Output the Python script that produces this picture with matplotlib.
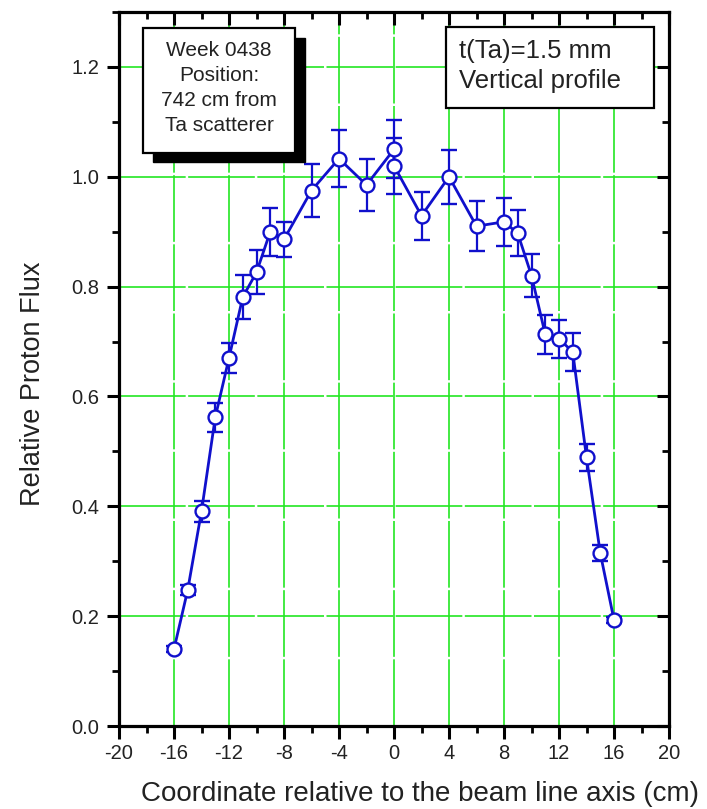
import matplotlib
matplotlib.use("Agg")
import matplotlib.pyplot as plt
from matplotlib.patches import Rectangle
from matplotlib.ticker import MultipleLocator

plt.rcParams['font.family'] = ['Liberation Sans', 'DejaVu Sans']

# Vertical beam profile: position (cm), relative flux and its uncertainty
position_cm = [-16, -15, -14, -13, -12, -11, -10, -9, -8, -6, -4, -2, 0, 0,
               2, 4, 6, 8, 9, 10, 11, 12, 13, 14, 15, 16]
rel_flux = [0.140, 0.248, 0.391, 0.562, 0.670, 0.781, 0.826, 0.900, 0.886,
            0.975, 1.033, 0.985, 1.050, 1.020, 0.929, 1.000, 0.910, 0.918,
            0.897, 0.820, 0.713, 0.705, 0.681, 0.489, 0.315, 0.193]
flux_err = [0.005, 0.009, 0.019, 0.027, 0.028, 0.040, 0.040, 0.044, 0.032,
            0.049, 0.052, 0.048, 0.053, 0.051, 0.044, 0.049, 0.045, 0.044,
            0.042, 0.039, 0.035, 0.035, 0.034, 0.024, 0.015, 0.005]

x_ticks = [-20, -16, -12, -8, -4, 0, 4, 8, 12, 16, 20]
y_ticks = [0.0, 0.2, 0.4, 0.6, 0.8, 1.0, 1.2]

info_lines = ["Week 0438", "Position:", "742 cm from", "Ta scatterer"]
setup_lines = ["t(Ta)=1.5 mm", "Vertical profile"]

blue = '#1010cc'
green = '#22e622'

fig = plt.figure(figsize=(7.07, 8.09), dpi=100)
ax = fig.add_axes([119 / 707, 83 / 809, 550 / 707, 714 / 809])

ax.set_xlim(-20, 20)
ax.set_ylim(0, 1.3)
ax.set_xticks(x_ticks)
ax.set_xticklabels([f"{t:d}" for t in x_ticks])
ax.set_yticks(y_ticks)
ax.set_yticklabels([f"{t:.1f}" for t in y_ticks])
ax.xaxis.set_minor_locator(MultipleLocator(2))
ax.yaxis.set_minor_locator(MultipleLocator(0.1))

for s in ax.spines.values():
    s.set_linewidth(2.3)

ax.tick_params(axis='both', which='major', length=9, width=2.2,
               labelsize=14.5, colors='black', labelcolor='#222222')
ax.tick_params(axis='both', which='minor', length=5, width=2.0)
ax.tick_params(axis='x', which='both', direction='out', top=True, pad=4)
ax.tick_params(axis='y', which='both', direction='out', right=True, pad=5)
# top and right ticks point into the frame
for tk in ax.xaxis.get_major_ticks() + ax.xaxis.get_minor_ticks():
    tk.tick2line.set_marker(3)
for tk in ax.yaxis.get_major_ticks() + ax.yaxis.get_minor_ticks():
    tk.tick2line.set_marker(0)

ax.grid(True, which='major', color=green, linewidth=1.2,
        linestyle=(0, (40, 1.5)), zorder=0)
ax.set_axisbelow(True)

ax.errorbar(position_cm, rel_flux, yerr=flux_err, fmt='-o', color=blue,
            linewidth=2.0, elinewidth=1.6, capsize=5.5, capthick=1.6,
            markersize=10, markerfacecolor='white', markeredgecolor=blue,
            markeredgewidth=1.7, zorder=3)

# annotation box with drop shadow (upper left)
bx0, bx1, by0, by1 = -18.25, -7.2, 1.044, 1.271
dx, dy = 0.73, 0.018
ax.add_patch(Rectangle((bx0 + dx, by0 - dy), bx1 - bx0, by1 - by0,
                       facecolor='black', edgecolor='black', zorder=5))
ax.add_patch(Rectangle((bx0, by0), bx1 - bx0, by1 - by0,
                       facecolor='white', edgecolor='black', linewidth=1.6,
                       zorder=6))
for i, line in enumerate(info_lines):
    ax.text((bx0 + bx1) / 2, 1.230 - i * 0.0455, line, ha='center',
            va='center', fontsize=15, color='#222222', zorder=7)

# setup box (upper right)
rx0, rx1, ry0, ry1 = 3.78, 18.91, 1.125, 1.273
ax.add_patch(Rectangle((rx0, ry0), rx1 - rx0, ry1 - ry0,
                       facecolor='white', edgecolor='black', linewidth=1.6,
                       zorder=6))
for i, line in enumerate(setup_lines):
    ax.text(4.75, 1.229 - i * 0.0545, line, ha='left', va='center',
            fontsize=18.5, color='#222222', zorder=7)

ax.set_xlabel("Coordinate relative to the beam line axis (cm)",
              fontsize=20, color='#222222', va='center')
ax.xaxis.set_label_coords(0.547, -0.095)
ax.set_ylabel("Relative Proton Flux", fontsize=19.5, color='#222222',
              va='center')
ax.yaxis.set_label_coords(-0.156, 0.479)

fig.savefig("out.png", dpi=100, facecolor='white')
